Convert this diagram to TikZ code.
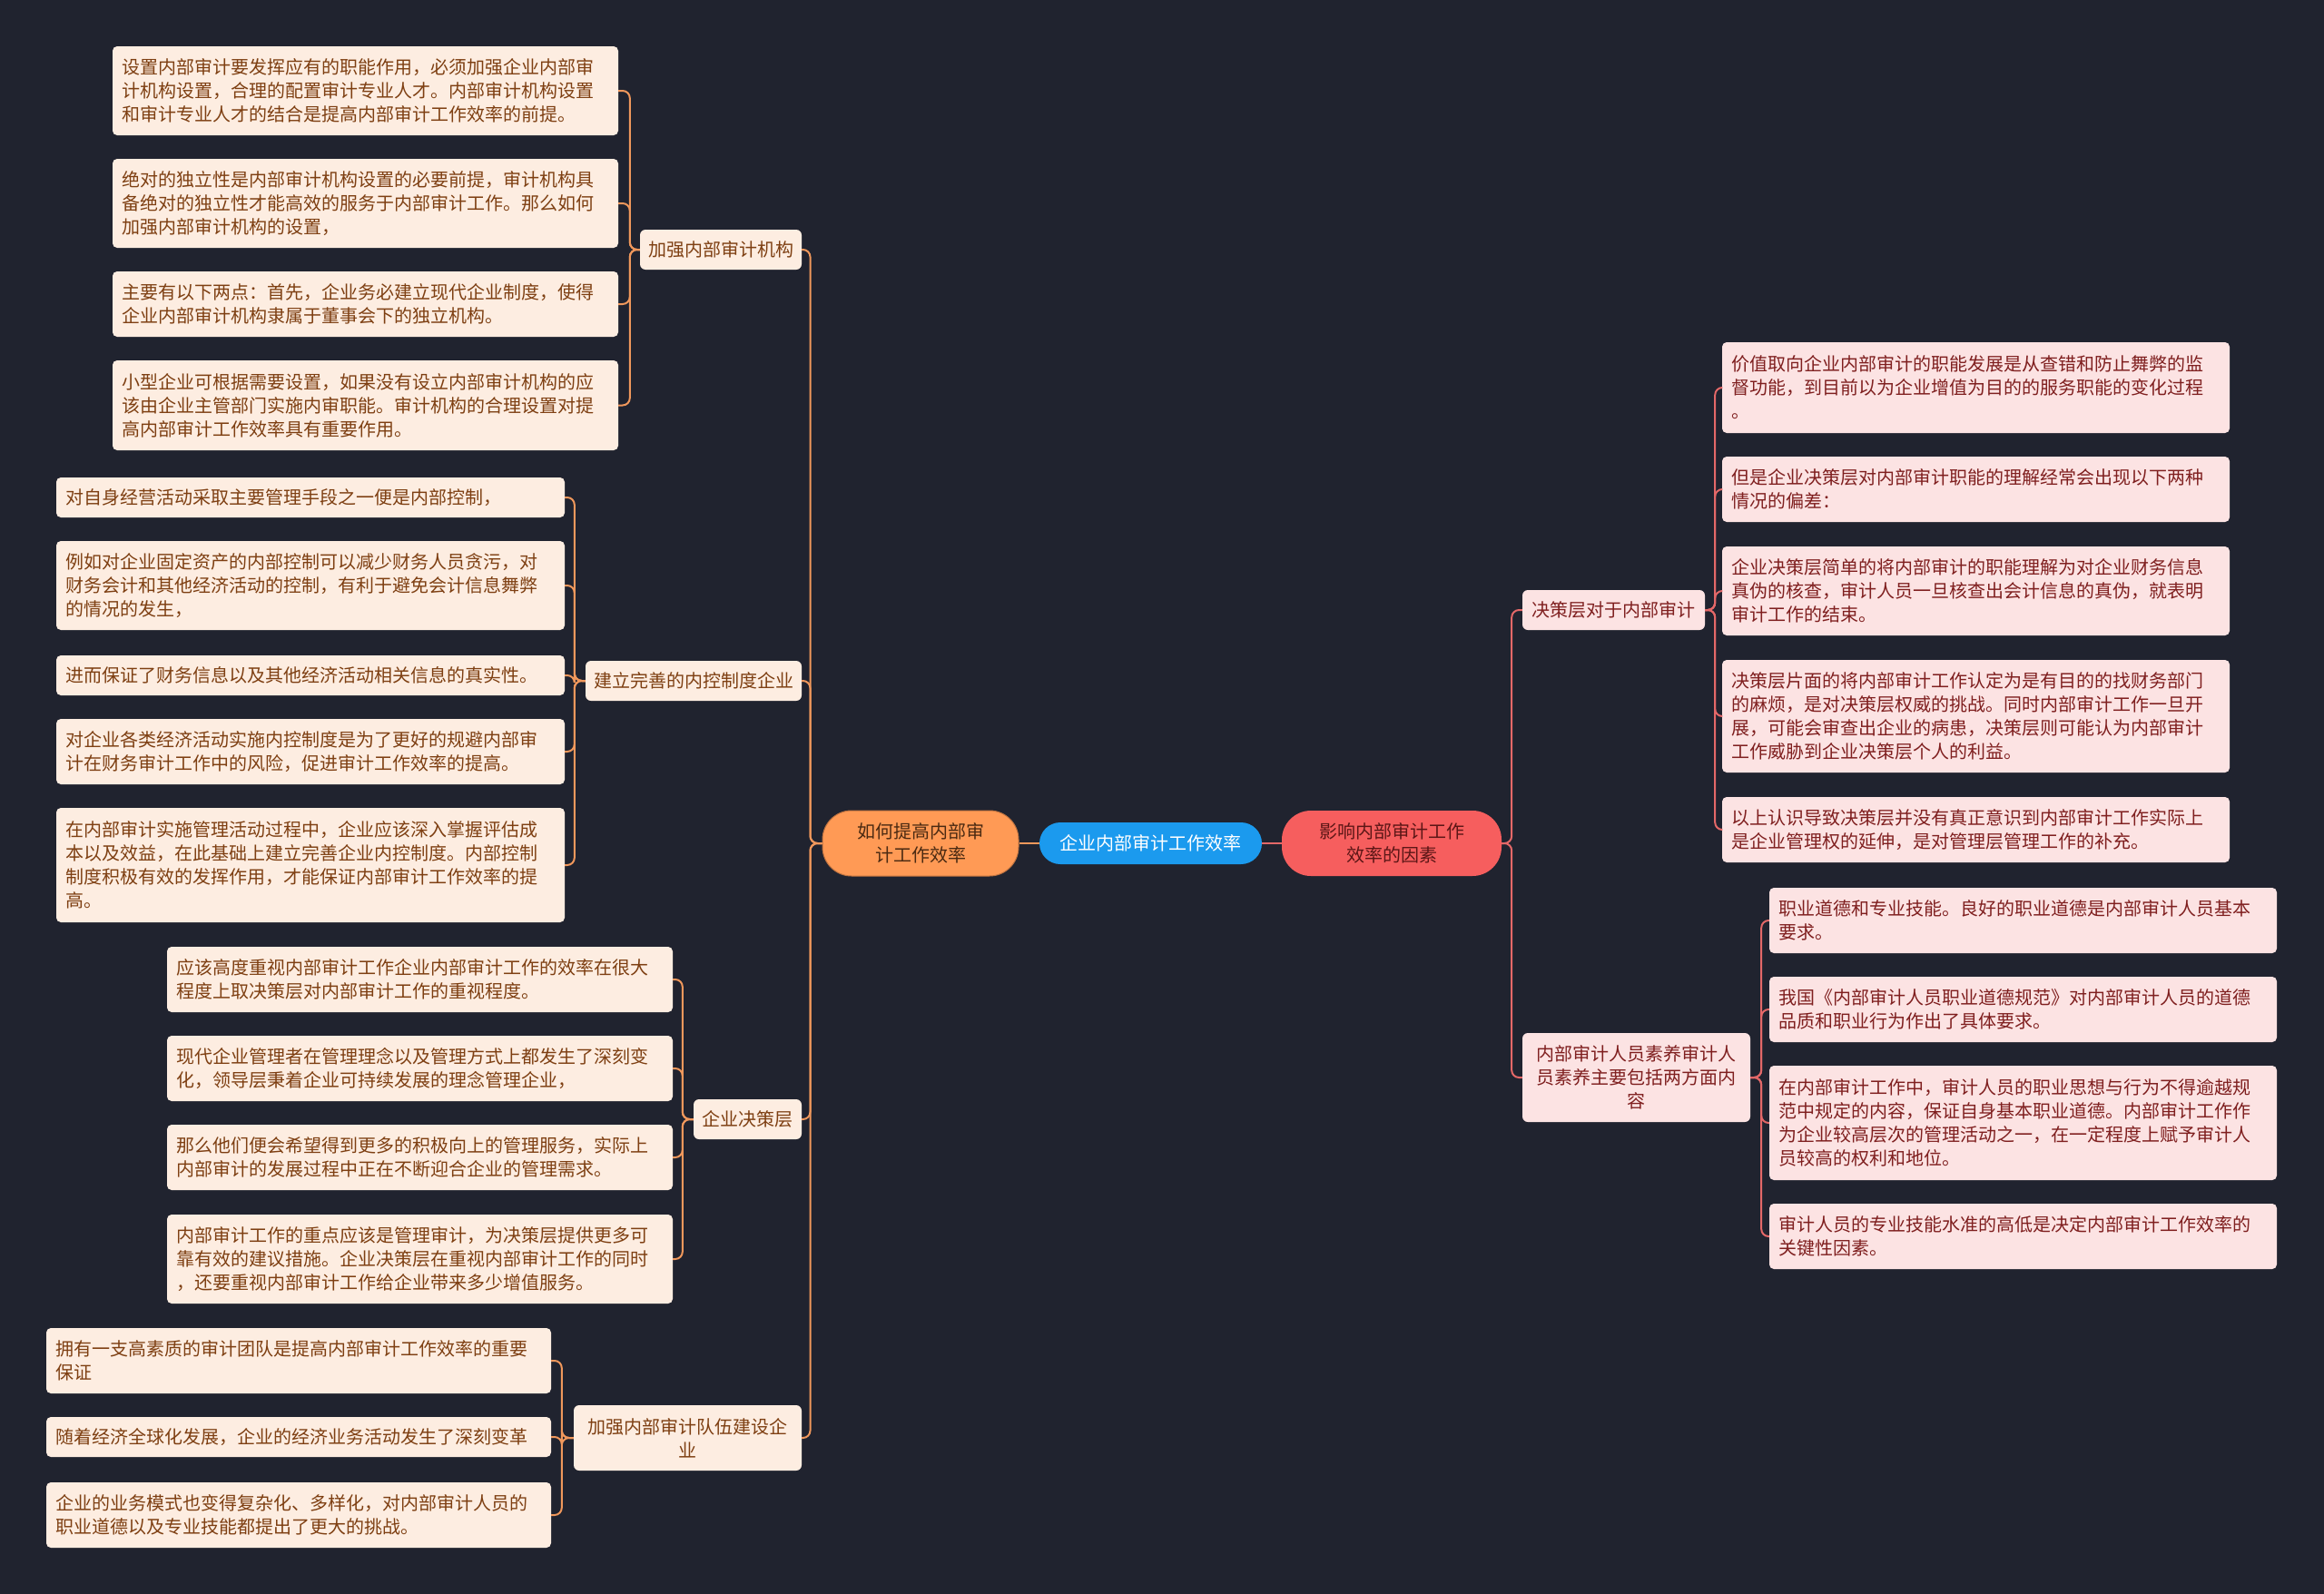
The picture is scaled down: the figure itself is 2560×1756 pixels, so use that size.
\documentclass[tikz,border=0pt]{standalone}
\usepackage{fontspec}
\setmainfont{Noto Sans CJK SC}
\definecolor{bgc}{HTML}{20232F}
\definecolor{lfillL}{HTML}{FDEDE1}
\definecolor{ltextL}{HTML}{7E3F12}
\definecolor{lineL}{HTML}{F0985C}
\definecolor{lfillR}{HTML}{FCE3E3}
\definecolor{ltextR}{HTML}{7F1F1F}
\definecolor{lineR}{HTML}{E46868}
\definecolor{pillO}{HTML}{FF9A55}
\definecolor{pillOtext}{HTML}{4A2A12}
\definecolor{pillB}{HTML}{1B9AEE}
\definecolor{pillR}{HTML}{F65E5E}
\definecolor{pillRtext}{HTML}{5B1616}
\newcommand\myfs{\fontsize{20}{26}\selectfont}
\begin{document}
\begin{tikzpicture}[x=1pt,y=-1pt,
  leafL/.style={fill=lfillL, text=ltextL, rounded corners=5pt, inner xsep=10pt, inner ysep=0pt, align=left, font=\myfs},
  leafR/.style={fill=lfillR, text=ltextR, rounded corners=5pt, inner xsep=10pt, inner ysep=0pt, align=left, font=\myfs},
  midL/.style={fill=lfillL, text=ltextL, rounded corners=6pt, inner xsep=4pt, inner ysep=0pt, align=center, font=\myfs, minimum height=44pt},
  midR/.style={fill=lfillR, text=ltextR, rounded corners=6pt, inner xsep=4pt, inner ysep=0pt, align=center, font=\myfs, minimum height=44pt},
  wA/.style={text width=537pt},
  connL/.style={draw=lineL, line width=2pt, rounded corners=8pt},
  connR/.style={draw=lineR, line width=2pt, rounded corners=8pt},
]
\fill[bgc] (0,0) rectangle (2560,1756);
\useasboundingbox (0,0) rectangle (2560,1756);

% central
\node[fill=pillB, text=white, rounded corners=23pt, minimum width=245pt, minimum height=46pt, inner sep=0pt, font=\myfs] (C) at (1267.5,929) {企业内部审计工作效率};
\node[fill=pillO, draw=pillO!75!black, line width=1pt, text=pillOtext, rounded corners=32pt, minimum width=216pt, minimum height=72pt, inner sep=0pt, align=center, font=\myfs] (OP) at (1014,929) {如何提高内部审\\计工作效率};
\node[fill=pillR, text=pillRtext, rounded corners=32pt, minimum width=242pt, minimum height=72pt, inner sep=0pt, align=center, font=\myfs] (RP) at (1533,929) {影响内部审计工作\\效率的因素};

\draw[lineL, line width=2pt] (OP.east) -- (C.west);
\draw[lineR, line width=2pt] (C.east) -- (RP.west);

% left level 2
\node[midL, minimum width=178pt] (L1) at (794,275) {加强内部审计机构};
\node[midL, minimum width=238pt] (L2) at (764,750) {建立完善的内控制度企业};
\node[midL, minimum width=119pt] (L3) at (823.5,1233) {企业决策层};
\node[midL, minimum width=251pt, minimum height=72pt] (L4) at (757.5,1584) {加强内部审计队伍建设企\\业};

% right level 2
\node[midR, minimum width=201pt] (R1) at (1777.5,672) {决策层对于内部审计};
\node[midR, minimum width=251pt, minimum height=98pt] (R2) at (1802.5,1187) {内部审计人员素养审计人\\员素养主要包括两方面内\\容};

% group A
\node[leafL, text width=537pt, minimum height=98pt] (A1) at (402.5,100) {设置内部审计要发挥应有的职能作用，必须加强企业内部审\\计机构设置，合理的配置审计专业人才。内部审计机构设置\\和审计专业人才的结合是提高内部审计工作效率的前提。};
\node[leafL, text width=537pt, minimum height=98pt] (A2) at (402.5,224) {绝对的独立性是内部审计机构设置的必要前提，审计机构具\\备绝对的独立性才能高效的服务于内部审计工作。那么如何\\加强内部审计机构的设置，};
\node[leafL, text width=537pt, minimum height=72pt] (A3) at (402.5,335) {主要有以下两点：首先，企业务必建立现代企业制度，使得\\企业内部审计机构隶属于董事会下的独立机构。};
\node[leafL, text width=537pt, minimum height=99pt] (A4) at (402.5,446.5) {小型企业可根据需要设置，如果没有设立内部审计机构的应\\该由企业主管部门实施内审职能。审计机构的合理设置对提\\高内部审计工作效率具有重要作用。};

% group B
\node[leafL, text width=540pt, minimum height=44pt] (B1) at (342,548) {对自身经营活动采取主要管理手段之一便是内部控制，};
\node[leafL, text width=540pt, minimum height=98pt] (B2) at (342,645) {例如对企业固定资产的内部控制可以减少财务人员贪污，对\\财务会计和其他经济活动的控制，有利于避免会计信息舞弊\\的情况的发生，};
\node[leafL, text width=540pt, minimum height=44pt] (B3) at (342,744) {进而保证了财务信息以及其他经济活动相关信息的真实性。};
\node[leafL, text width=540pt, minimum height=72pt] (B4) at (342,828) {对企业各类经济活动实施内控制度是为了更好的规避内部审\\计在财务审计工作中的风险，促进审计工作效率的提高。};
\node[leafL, text width=540pt, minimum height=126pt] (B5) at (342,953) {在内部审计实施管理活动过程中，企业应该深入掌握评估成\\本以及效益，在此基础上建立完善企业内控制度。内部控制\\制度积极有效的发挥作用，才能保证内部审计工作效率的提\\高。};

% group C
\node[leafL, text width=537pt, minimum height=72pt] (C1) at (462.5,1079) {应该高度重视内部审计工作企业内部审计工作的效率在很大\\程度上取决策层对内部审计工作的重视程度。};
\node[leafL, text width=537pt, minimum height=72pt] (C2) at (462.5,1177) {现代企业管理者在管理理念以及管理方式上都发生了深刻变\\化，领导层秉着企业可持续发展的理念管理企业，};
\node[leafL, text width=537pt, minimum height=72pt] (C3) at (462.5,1275) {那么他们便会希望得到更多的积极向上的管理服务，实际上\\内部审计的发展过程中正在不断迎合企业的管理需求。};
\node[leafL, text width=537pt, minimum height=98pt] (C4) at (462.5,1387) {内部审计工作的重点应该是管理审计，为决策层提供更多可\\靠有效的建议措施。企业决策层在重视内部审计工作的同时\\，还要重视内部审计工作给企业带来多少增值服务。};

% group D
\node[leafL, text width=536pt, minimum height=72pt] (D1) at (329,1499) {拥有一支高素质的审计团队是提高内部审计工作效率的重要\\保证};
\node[leafL, text width=536pt, minimum height=44pt] (D2) at (329,1583) {随着经济全球化发展，企业的经济业务活动发生了深刻变革};
\node[leafL, text width=536pt, minimum height=72pt] (D3) at (329,1669) {企业的业务模式也变得复杂化、多样化，对内部审计人员的\\职业道德以及专业技能都提出了更大的挑战。};

% group E
\node[leafR, text width=539pt, minimum height=100pt] (E1) at (2176.5,427) {价值取向企业内部审计的职能发展是从查错和防止舞弊的监\\督功能，到目前以为企业增值为目的的服务职能的变化过程\\。};
\node[leafR, text width=539pt, minimum height=72pt] (E2) at (2176.5,539) {但是企业决策层对内部审计职能的理解经常会出现以下两种\\情况的偏差：};
\node[leafR, text width=539pt, minimum height=98pt] (E3) at (2176.5,651) {企业决策层简单的将内部审计的职能理解为对企业财务信息\\真伪的核查，审计人员一旦核查出会计信息的真伪，就表明\\审计工作的结束。};
\node[leafR, text width=539pt, minimum height=124pt] (E4) at (2176.5,789) {决策层片面的将内部审计工作认定为是有目的的找财务部门\\的麻烦，是对决策层权威的挑战。同时内部审计工作一旦开\\展，可能会审查出企业的病患，决策层则可能认为内部审计\\工作威胁到企业决策层个人的利益。};
\node[leafR, text width=539pt, minimum height=72pt] (E5) at (2176.5,914) {以上认识导致决策层并没有真正意识到内部审计工作实际上\\是企业管理权的延伸，是对管理层管理工作的补充。};

% group F
\node[leafR, text width=539pt, minimum height=72pt] (F1) at (2228.5,1014) {职业道德和专业技能。良好的职业道德是内部审计人员基本\\要求。};
\node[leafR, text width=539pt, minimum height=72pt] (F2) at (2228.5,1112) {我国《内部审计人员职业道德规范》对内部审计人员的道德\\品质和职业行为作出了具体要求。};
\node[leafR, text width=539pt, minimum height=126pt] (F3) at (2228.5,1237) {在内部审计工作中，审计人员的职业思想与行为不得逾越规\\范中规定的内容，保证自身基本职业道德。内部审计工作作\\为企业较高层次的管理活动之一，在一定程度上赋予审计人\\员较高的权利和地位。};
\node[leafR, text width=539pt, minimum height=72pt] (F4) at (2228.5,1362) {审计人员的专业技能水准的高低是决定内部审计工作效率的\\关键性因素。};

% connectors level 1 -> level 2
\foreach \n in {L1,L2,L3,L4} \draw[connL] (OP.west) -- ++(-13,0) |- (\n.east);
\foreach \n in {R1,R2} \draw[connR] (RP.east) -- ++(11,0) |- (\n.west);

% connectors level 2 -> leaves
\foreach \n in {A1,A2,A3,A4} \draw[connL] (L1.west) -- ++(-11,0) |- (\n.east);
\foreach \n in {B1,B2,B3,B4,B5} \draw[connL] (L2.west) -- ++(-12,0) |- (\n.east);
\foreach \n in {C1,C2,C3,C4} \draw[connL] (L3.west) -- ++(-12,0) |- (\n.east);
\foreach \n in {D1,D2,D3} \draw[connL] (L4.west) -- ++(-13,0) |- (\n.east);
\foreach \n in {E1,E2,E3,E4,E5} \draw[connR] (R1.east) -- ++(11,0) |- (\n.west);
\foreach \n in {F1,F2,F3,F4} \draw[connR] (R2.east) -- ++(12,0) |- (\n.west);
\end{tikzpicture}
\end{document}
